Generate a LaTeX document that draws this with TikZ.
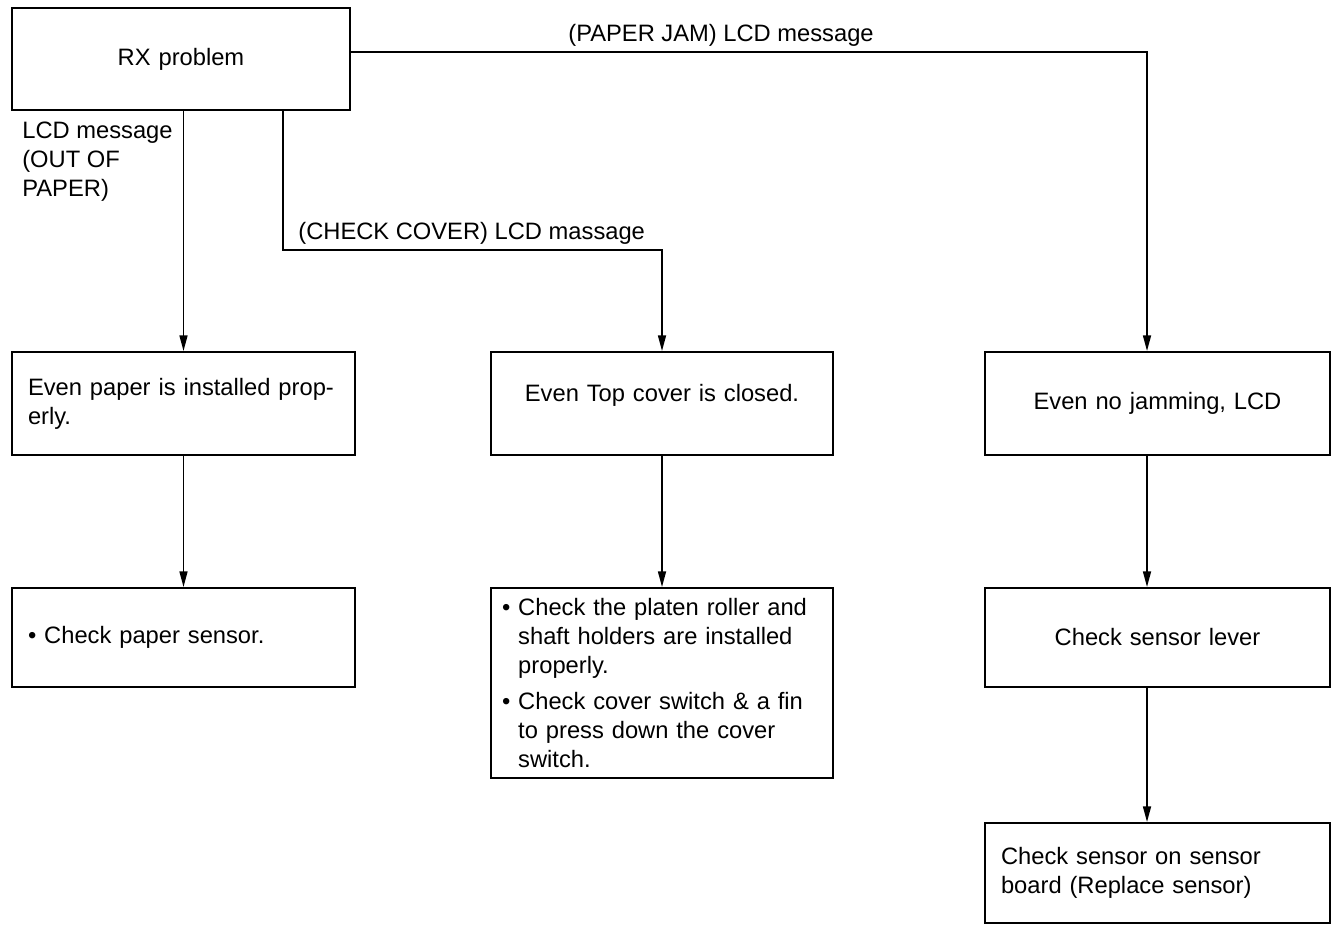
\documentclass[tikz,border=0pt]{standalone}
\usepackage{fontspec}
\setmainfont{Liberation Sans}
\usetikzlibrary{arrows.meta}
\newcommand\itm{\textbullet\ }
\newcommand\itmpad{\hphantom{\textbullet\ }}
\begin{document}
\begin{tikzpicture}[x=0.02cm,y=-0.02cm,
  font=\fontsize{13.5}{16.5}\selectfont,
  box/.style={draw,line width=1pt,inner xsep=0.32cm,text width=#1},
  arr/.style={line width=1.1pt,-{Triangle[length=9pt,width=4.5pt]}},
  lbl/.style={inner sep=0pt,align=left}]
\useasboundingbox (0,0) rectangle (1335,928);
% boxes
\node[box=6.12cm,minimum height=2.04cm,align=center] (rx) at (181,59) {RX problem};
\node[box=6.22cm,minimum height=2.06cm,align=left] (paper) at (183.5,403.5)
  {Even paper is installed prop-\\erly.};
\node[box=6.22cm,minimum height=1.98cm,align=left] (psens) at (183.5,637.5)
  {\itm Check paper sensor.};
\node[box=6.2cm,minimum height=2.06cm,align=center] (cover) at (662,403.5)
  {\raisebox{0.16cm}[\height][\depth]{Even Top cover is closed.}};
\node[box=6.4cm,minimum height=3.8cm,align=left,inner xsep=0.22cm] (platen) at (662,683)
  {\itm Check the platen roller and\\\itmpad shaft holders are installed\\\itmpad properly.\\[0.15cm]
   \itm Check cover switch \& a fin\\\itmpad to press down the cover\\\itmpad switch.};
\node[box=6.26cm,minimum height=2.06cm,align=center] (jam) at (1157.5,403.5)
  {Even no jamming, LCD};
\node[box=6.26cm,minimum height=1.98cm,align=center] (lever) at (1157.5,637.5)
  {Check sensor lever};
\node[box=6.26cm,minimum height=2cm,align=left] (board) at (1157.5,873)
  {Check sensor on sensor\\board (Replace sensor)};
% labels
\node[lbl,anchor=north west] (outlbl) at (22,122) {LCD message\\(OUT OF\\PAPER)};
\node[lbl,anchor=base west] (coverlbl) at (298,240) {(CHECK COVER) LCD massage};
\node[lbl,anchor=base west] (jamlbl) at (568,42) {(PAPER JAM) LCD message};
% connectors
\draw[arr] (rx.south -| paper.north) -- (paper.north);
\draw[arr] (rx.south -| 283,0) -- (283,250) -| (cover.north);
\draw[arr] (rx.east |- 0,52) -| (jam.north -| 1147,0);
\draw[arr] (paper) -- (psens);
\draw[arr] (cover) -- (platen);
\draw[arr] (jam.south -| 1147,0) -- (lever.north -| 1147,0);
\draw[arr] (lever.south -| 1147,0) -- (board.north -| 1147,0);
\end{tikzpicture}
\end{document}
